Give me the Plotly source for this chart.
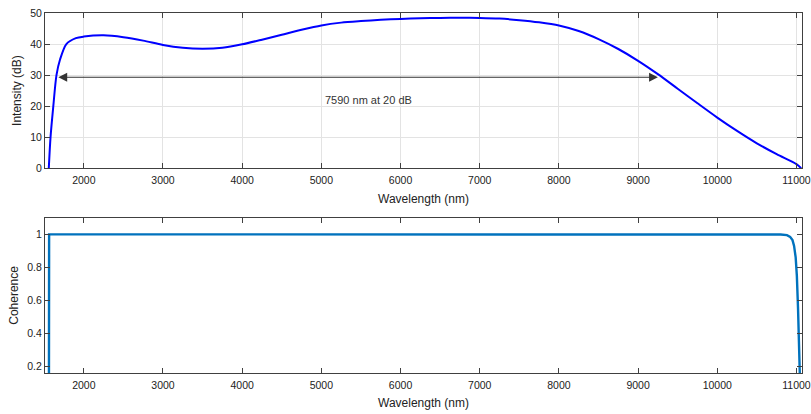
import plotly.graph_objects as go
from plotly.subplots import make_subplots

# Intensity spectrum (dB) versus wavelength (nm)
wl_int = [1558, 1580, 1615, 1655, 1700, 1780, 1900, 2000, 2250, 2500, 2750,
          3000, 3250, 3500, 3750, 4000, 4250, 4500, 4750, 5000, 5250, 5500,
          5750, 6000, 6250, 6500, 6750, 7000, 7250, 7500, 7750, 8000, 8250,
          8500, 8750, 9000, 9250, 9500, 9750, 10000, 10250, 10500, 10750,
          11000, 11060]
intensity = [0, 10, 20, 30, 35, 40, 41.9, 42.4, 42.8, 42.2, 41.1,
             39.7, 38.8, 38.5, 38.8, 39.9, 41.4, 43.0, 44.6, 46.0, 46.9, 47.4,
             47.8, 48.1, 48.3, 48.4, 48.45, 48.4, 48.2, 47.7, 47.0, 46.0, 44.2,
             41.6, 38.4, 34.6, 30.3, 25.6, 20.9, 16.3, 12.0, 8.0, 4.5,
             1.3, 0]

# Coherence versus wavelength
wl_coh = [1560, 1562, 3000, 6000, 9000, 10600, 10800, 10880, 10920, 10950, 10970,
          10990, 11005, 11020, 11035, 11042]
coherence = [0.16, 1.0, 1.0, 1.0, 1.0, 1.0, 0.999, 0.995, 0.985, 0.965, 0.93,
             0.86, 0.75, 0.55, 0.3, 0.16]

# Bandwidth marker
bw_start, bw_end, bw_level = 1660, 9250, 29.3
bw_label = "7590 nm at 20 dB"

x_ticks = [2000, 3000, 4000, 5000, 6000, 7000, 8000, 9000, 10000, 11000]
x_labels = [str(v) for v in x_ticks]
int_ticks = [0, 10, 20, 30, 40, 50]
coh_ticks = [0.2, 0.4, 0.6, 0.8, 1]
coh_labels = ["0.2", "0.4", "0.6", "0.8", "1"]

FONT = "Liberation Sans, Arial, sans-serif"
AXIS_COLOR = "#404040"

fig = make_subplots(rows=2, cols=1, vertical_spacing=0.138)

fig.add_trace(go.Scatter(x=wl_int, y=intensity, mode="lines",
                         line=dict(color="#0000ff", width=2, shape="spline", smoothing=0.8),
                         showlegend=False), row=1, col=1)
fig.add_trace(go.Scatter(x=wl_coh, y=coherence, mode="lines",
                         line=dict(color="#0072bd", width=2.4),
                         showlegend=False), row=2, col=1)

common_axis = dict(showline=True, linecolor=AXIS_COLOR, linewidth=1, mirror="ticks",
                   ticks="inside", ticklen=5, tickcolor=AXIS_COLOR, zeroline=False,
                   automargin=False, ticklabeloverflow="allow",
                   tickfont=dict(family=FONT, size=10.5, color="#222"))

fig.update_xaxes(range=[1510, 11070], tickvals=x_ticks, ticktext=x_labels, **common_axis,
                 ticklabelstandoff=2,
                 title=dict(text="Wavelength (nm)", font=dict(family=FONT, size=12, color="#222"),
                            standoff=9))
fig.update_xaxes(showgrid=True, gridcolor="#e3e3e3", row=1, col=1)
fig.update_xaxes(showgrid=False, row=2, col=1)

fig.update_yaxes(range=[0, 50], tickvals=int_ticks, showgrid=True, gridcolor="#e3e3e3",
                 domain=[0.569, 1.0], **common_axis,
                 title=dict(text="Intensity (dB)", font=dict(family=FONT, size=12, color="#222"),
                            standoff=6),
                 row=1, col=1)
fig.update_yaxes(range=[0.16, 1.1], tickvals=coh_ticks, ticktext=coh_labels,
                 domain=[0.0, 0.431], showgrid=False, **common_axis,
                 title=dict(text="Coherence", font=dict(family=FONT, size=12, color="#222"),
                            standoff=6),
                 row=2, col=1)

# Double-headed arrow spanning the bandwidth
fig.add_annotation(x=bw_end, y=bw_level, ax=bw_start, ay=bw_level,
                   xref="x", yref="y", axref="x", ayref="y",
                   text="", showarrow=True, arrowhead=2, startarrowhead=2,
                   arrowside="end+start", arrowsize=1.6, startarrowsize=1.6,
                   arrowwidth=1.1, arrowcolor="#333333")
fig.add_annotation(x=5020, y=22, xref="x", yref="y", text=bw_label, showarrow=False,
                   xanchor="left", yanchor="middle",
                   font=dict(family=FONT, size=11, color="#333"))

fig.update_layout(width=811, height=414, margin=dict(l=45, r=9, t=13, b=41),
                  paper_bgcolor="white", plot_bgcolor="white",
                  font=dict(family=FONT))

fig.write_html("out.html")
